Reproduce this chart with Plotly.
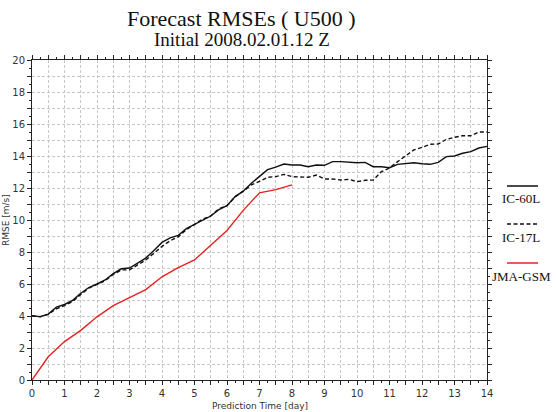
import plotly.graph_objects as go

# ---------------- data ----------------
days_6h = [i * 0.25 for i in range(57)]          # 0 .. 14 day, 6-hourly
ic60l = [4.02, 3.96, 4.12, 4.55, 4.72, 4.98, 5.42, 5.78, 6.00, 6.25,
         6.65, 6.95, 7.00, 7.32, 7.62, 8.10, 8.60, 8.88, 9.04, 9.46,
         9.72, 10.00, 10.25, 10.65, 10.90, 11.46, 11.80, 12.30, 12.70, 13.15,
         13.30, 13.50, 13.44, 13.44, 13.33, 13.44, 13.42, 13.65, 13.65, 13.60,
         13.58, 13.60, 13.33, 13.33, 13.27, 13.48, 13.54, 13.58, 13.52, 13.48,
         13.60, 13.96, 14.00, 14.17, 14.27, 14.50, 14.60]
ic17l = [4.00, 3.95, 4.10, 4.45, 4.65, 4.90, 5.35, 5.75, 5.98, 6.20,
         6.60, 6.88, 6.88, 7.20, 7.50, 7.92, 8.35, 8.70, 8.95, 9.40,
         9.70, 10.05, 10.25, 10.70, 10.90, 11.45, 11.80, 12.20, 12.42, 12.67,
         12.71, 12.85, 12.71, 12.71, 12.67, 12.81, 12.56, 12.56, 12.50, 12.54,
         12.40, 12.48, 12.50, 13.02, 13.25, 13.65, 14.00, 14.38, 14.54, 14.73,
         14.75, 15.04, 15.17, 15.27, 15.27, 15.50, 15.50]
days_12h = [0, 0.5, 1, 1.5, 2, 2.5, 3, 3.5, 4, 4.5, 5, 5.5, 6, 6.5, 7, 7.5, 8]
jma_gsm = [0.0, 1.45, 2.4, 3.1, 3.95, 4.65, 5.15, 5.65, 6.45, 7.03, 7.5,
           8.42, 9.35, 10.6, 11.7, 11.9, 12.2]

series_names = ["IC-60L", "IC-17L", "JMA-GSM"]
series_colors = ["#111111", "#111111", "#e52222"]
series_dash = ["solid", "4px,2.5px", "solid"]

x_tickvals = [i * 0.5 for i in range(29)]
x_ticktext = [str(int(v)) if v == int(v) else "" for v in x_tickvals]
y_tickvals = list(range(21))
y_ticktext = [str(v) if v % 2 == 0 else "" for v in y_tickvals]

# ---------------- figure ----------------
fig = go.Figure()
xs = [days_6h, days_6h, days_12h]
ys = [ic60l, ic17l, jma_gsm]
for name, x, y, c, d in zip(series_names, xs, ys, series_colors, series_dash):
    fig.add_trace(go.Scatter(x=x, y=y, mode="lines", name=name,
                             line=dict(color=c, width=1.4, dash=d),
                             showlegend=False))

tickfont = dict(family="DejaVu Sans", size=10, color="#333333")
axis_common = dict(showline=True, linecolor="#222222", linewidth=1,
                   mirror="ticks", ticks="outside", ticklen=4,
                   tickcolor="#222222", tickwidth=1,
                   showgrid=True, gridcolor="#c8c8c8", gridwidth=1,
                   griddash="3px,2px", zeroline=False, tickfont=tickfont,
                   tickmode="array")

fig.update_xaxes(range=[0, 14], tickvals=x_tickvals, ticktext=x_ticktext,
                 minor=dict(dtick=0.25, ticks="outside", ticklen=2,
                            tickcolor="#222222", showgrid=False),
                 **axis_common)
fig.update_yaxes(range=[0, 20], tickvals=y_tickvals, ticktext=y_ticktext,
                 minor=dict(dtick=0.5, ticks="outside", ticklen=2,
                            tickcolor="#222222", showgrid=False),
                 **axis_common)

annotations = [
    dict(text="Forecast RMSEs ( U500 )", x=0.4615, y=18.5, xref="paper",
         yref="paper", showarrow=False, xanchor="center", yanchor="middle",
         font=dict(family="Liberation Serif", size=22, color="#111111")),
    dict(text="Initial 2008.02.01.12 Z", x=0.4615, y=39.5, xref="paper",
         yref="paper", showarrow=False, xanchor="center", yanchor="middle",
         font=dict(family="Liberation Serif", size=19, color="#111111")),
    dict(text="Prediction Time [day]", x=0.5, y=(380 - 406) / 320, xref="paper",
         yref="paper", showarrow=False, xanchor="center", yanchor="middle",
         font=dict(family="DejaVu Sans", size=9, color="#333333")),
    dict(text="RMSE [m/s]", x=(6 - 32) / 455, y=0.5, xref="paper",
         yref="paper", showarrow=False, xanchor="center", yanchor="middle",
         textangle=-90,
         font=dict(family="DejaVu Sans", size=9, color="#333333")),
]
# convert title pixel positions to paper coords
for a in annotations[:2]:
    a["y"] = (380 - a["y"]) / 320

# custom legend at right
leg_line_y = [186, 224, 263]
leg_text_y = [198, 237, 276]
shapes = []
for name, c, d, ly, ty in zip(series_names, series_colors, series_dash,
                              leg_line_y, leg_text_y):
    shapes.append(dict(type="line", xref="paper", yref="paper",
                       x0=(507 - 32) / 455, x1=(538 - 32) / 455,
                       y0=(380 - ly) / 320, y1=(380 - ly) / 320,
                       line=dict(color=c, width=1.5, dash=d)))
    annotations.append(dict(text=name, x=(521 - 32) / 455, y=(380 - ty) / 320,
                            xref="paper", yref="paper", showarrow=False,
                            xanchor="center", yanchor="middle",
                            font=dict(family="Liberation Serif", size=13,
                                      color="#111111")))

fig.update_layout(width=558, height=412,
                  margin=dict(l=32, r=71, t=60, b=32),
                  paper_bgcolor="white", plot_bgcolor="white",
                  annotations=annotations, shapes=shapes)

fig.write_html("out.html")
